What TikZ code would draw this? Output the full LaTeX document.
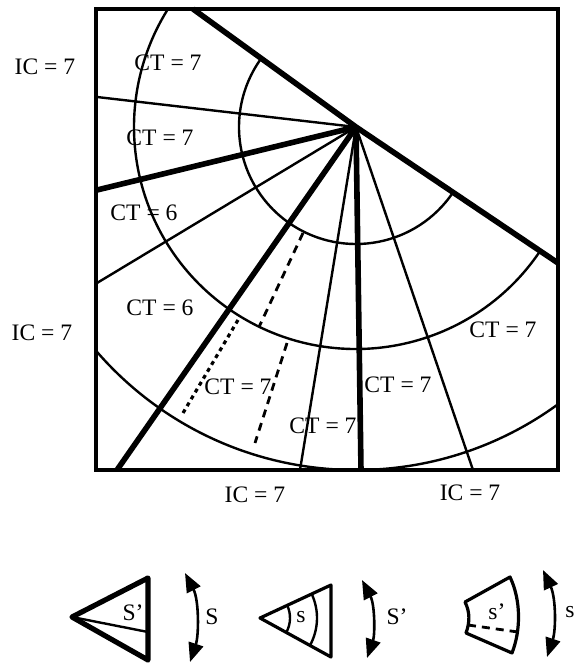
\documentclass[tikz,border=0pt]{standalone}
\usepackage{fontspec}
\setmainfont{Liberation Serif}
\usetikzlibrary{arrows.meta}

\begin{document}
\begin{tikzpicture}[x=0.5pt,y=0.5pt,yscale=-1,
  ray/.style={line width=1.2pt},
  bigray/.style={line width=2.8pt},
  lbl/.style={inner sep=0pt,font=\fontsize{11.8}{13}\selectfont},
  flip/.style={line width=1.3pt,{Triangle[length=9.5pt,width=7.5pt]}-{Triangle[length=9.5pt,width=7.5pt]}}]
\useasboundingbox (0,0) rectangle (574,664);
\coordinate (hub) at (356,127);
\begin{scope}
\clip (96,9) rectangle (558,470);
\draw[ray] (hub) ++(34:117) arc[start angle=34,end angle=216,radius=117];
\draw[ray] (hub) ++(34:222) arc[start angle=34,end angle=216,radius=222];
\draw[ray] (hub) ++(0:343) arc[start angle=0,end angle=180,radius=343];
\end{scope}
\draw[bigray] (193,9) -- (hub) -- (558,263);
\draw[bigray] (hub) -- (97,190);
\draw[bigray] (hub) -- (117,470);
\draw[bigray] (hub) -- (361,470);
\draw[ray] (hub) -- (97,97);
\draw[ray] (hub) -- (97,283);
\draw[ray] (hub) -- (300,470);
\draw[ray] (hub) -- (473,470);
\draw[ray,line width=1.4pt,dash pattern=on 4pt off 3pt] (303,233) -- (259,327);
\draw[ray,line width=1.4pt,dash pattern=on 4pt off 3pt] (287,343) -- (255,443);
\draw[line width=1.6pt,dash pattern=on 2pt off 2pt] (238,320) -- (183,413);
\draw[line width=2.4pt] (96,9) rectangle (558,470);
\node[lbl] (ic1) at (45,67) {IC = 7};
\node[lbl] (ic2) at (42,333) {IC = 7};
\node[lbl] (ic3) at (255,495) {IC = 7};
\node[lbl] (ic4) at (470,493) {IC = 7};
\node[lbl] (ct1) at (168,63) {CT = 7};
\node[lbl] (ct2) at (160,138) {CT = 7};
\node[lbl] (ct3) at (144,213) {CT = 6};
\node[lbl] (ct4) at (160,308) {CT = 6};
\node[lbl] (ct5) at (238,387) {CT = 7};
\node[lbl] (ct6) at (323,426) {CT = 7};
\node[lbl] (ct7) at (398,385) {CT = 7};
\node[lbl] (ct8) at (503,330) {CT = 7};
\draw[line width=2.6pt,line join=round] (72,617) -- (148,578) -- (148,660) -- cycle;
\draw[ray] (72,617) -- (148,632);
\node[lbl] (wa) at (133,613) {S'};
\draw[flip] (185,573) .. controls (199,600) and (199,635) .. (190,662);
\node[lbl] (sa) at (212,617) {S};
\draw[line width=1.6pt,line join=round] (260,618) -- (331,585) -- (331,657) -- cycle;
\draw[ray] (260,618) ++(-25:30) arc[start angle=-25,end angle=29,radius=30];
\draw[ray] (260,618) ++(-25:57) arc[start angle=-25,end angle=29,radius=57];
\node[lbl] (wb) at (301,617) {s};
\draw[flip] (362,580) .. controls (375,605) and (375,635) .. (367,658);
\node[lbl] (sb) at (397,617) {S'};
\draw[line width=1.6pt,line join=round] (465,602) -- (510,577) .. controls (521,600) and (521,630) .. (512,653) -- (466,633) .. controls (470,622) and (470,612) .. cycle;
\draw[ray,line width=1.4pt,dash pattern=on 4pt off 3pt] (468,625) -- (518,632);
\node[lbl] (wc) at (497,612) {s'};
\draw[flip] (543,570) .. controls (556,598) and (556,630) .. (547,657);
\node[lbl] (sc) at (570,612) {s};
\end{tikzpicture}
\end{document}
